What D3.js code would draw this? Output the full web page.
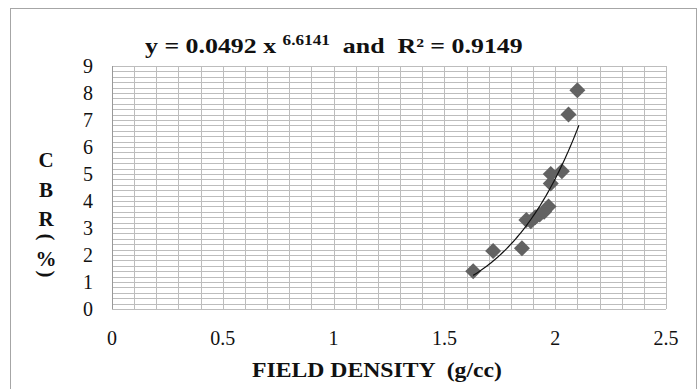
<!DOCTYPE html>
<html>
<head>
<meta charset="utf-8">
<script src="https://cdn.jsdelivr.net/npm/d3@7"></script>
<style>
  html, body { margin: 0; padding: 0; background: #fff; }
</style>
</head>
<body>
<div id="chart"></div>
<script>
// field density (g/cc) vs CBR (%)
var density = [1.63, 1.72, 1.85, 1.87, 1.89, 1.91, 1.93, 1.95, 1.97, 1.98, 1.98, 2.03, 2.06, 2.10];
var cbr     = [1.40, 2.15, 2.25, 3.30, 3.25, 3.40, 3.50, 3.60, 3.80, 4.65, 5.00, 5.10, 7.20, 8.10];

var xTicks = [0, 0.5, 1, 1.5, 2, 2.5];
var yTicks = [0, 1, 2, 3, 4, 5, 6, 7, 8, 9];

// power trendline shown in the title
var coefA = 0.0492, coefB = 6.6141, rSquared = 0.9149;

var width = 700, height = 389;
var margin = { left: 112, right: 34, top: 66, bottom: 80 };
var serif = "'Liberation Serif', 'Times New Roman', serif";

var svg = d3.select("#chart").append("svg")
  .attr("width", width)
  .attr("height", height)
  .attr("font-family", serif)
  .style("display", "block");

// outer chart border
svg.append("rect")
  .attr("x", 10.5).attr("y", 8.5)
  .attr("width", 686).attr("height", 390)
  .attr("fill", "#fff")
  .attr("stroke", "#a6a6a6");

var x = d3.scaleLinear().domain([0, 2.5]).range([margin.left, width - margin.right]);
var y = d3.scaleLinear().domain([0, 9]).range([height - margin.bottom, margin.top]);

// gridlines
var grid = svg.append("g").attr("stroke", "#bdbdbd").attr("stroke-width", 1);
grid.selectAll("line.h")
  .data(d3.range(0, 45 + 1).map(function(i) { return i * 0.2; }))
  .enter().append("line")
  .attr("x1", x(0)).attr("x2", x(2.5))
  .attr("y1", function(d) { return Math.round(y(d)) + 0.5; })
  .attr("y2", function(d) { return Math.round(y(d)) + 0.5; });
grid.selectAll("line.v")
  .data(d3.range(0, 25 + 1).map(function(i) { return i * 0.1; }))
  .enter().append("line")
  .attr("y1", y(0)).attr("y2", y(9))
  .attr("x1", function(d) { return Math.round(x(d)) + 0.5; })
  .attr("x2", function(d) { return Math.round(x(d)) + 0.5; });

// plot area left edge, a bit darker
svg.append("line")
  .attr("x1", x(0) + 0.5).attr("x2", x(0) + 0.5)
  .attr("y1", y(0)).attr("y2", y(9))
  .attr("stroke", "#999");

// tick labels
svg.append("g").selectAll("text")
  .data(yTicks)
  .enter().append("text")
  .attr("x", 93)
  .attr("y", function(d) { return y(d) + 7; })
  .attr("text-anchor", "end")
  .attr("font-size", "20px")
  .attr("fill", "#111")
  .text(function(d) { return d; });

svg.append("g").selectAll("text")
  .data(xTicks)
  .enter().append("text")
  .attr("x", function(d) { return x(d); })
  .attr("y", 345)
  .attr("text-anchor", "middle")
  .attr("font-size", "20px")
  .attr("fill", "#111")
  .text(function(d) { return d; });

// trendline
var fit = d3.range(0, 61).map(function(i) {
  var xv = 1.63 + i * (2.107 - 1.63) / 60;
  return [xv, coefA * Math.pow(xv, coefB)];
});
var fitLine = d3.line().x(function(d) { return x(d[0]); }).y(function(d) { return y(d[1]); });

// points
var pts = density.map(function(d, i) { return { x: d, y: cbr[i] }; });
svg.append("g").selectAll("path")
  .data(pts)
  .enter().append("path")
  .attr("transform", function(d) { return "translate(" + x(d.x) + "," + y(d.y) + ")"; })
  .attr("d", "M0,-8L8,0L0,8L-8,0Z")
  .attr("fill", "#626262");

svg.append("path")
  .datum(fit)
  .attr("fill", "none")
  .attr("stroke", "#111")
  .attr("stroke-width", 1.2)
  .attr("d", fitLine);

// stretch a text horizontally so it spans [x0, x0 + w]
function fitWidth(sel, x0, w) {
  var bb = sel.node().getBBox();
  var k = w / bb.width;
  sel.attr("transform", "translate(" + x0 + ",0) scale(" + k + ",1) translate(" + (-bb.x) + ",0)");
}

// title with equation
var title = svg.append("text")
  .attr("x", 0).attr("y", 53)
  .attr("font-size", "21px")
  .attr("font-weight", "bold")
  .attr("fill", "#111");
title.append("tspan").text("y = " + coefA + " x ");
title.append("tspan").attr("font-size", "14px").attr("dy", -8).text(coefB);
title.append("tspan").attr("dy", 8).attr("xml:space", "preserve").text("  and  R² = " + rSquared);
fitWidth(title, 145, 378);

// x axis title
var xTitle = svg.append("text")
  .attr("x", 0).attr("y", 377)
  .attr("font-size", "20px")
  .attr("font-weight", "bold")
  .attr("fill", "#111")
  .attr("xml:space", "preserve")
  .text("FIELD DENSITY  (g/cc)");
fitWidth(xTitle, 252, 250);

// stacked y axis title
var yTitle = [
  { t: "C", y: 167, rot: false },
  { t: "B", y: 197, rot: false },
  { t: "R", y: 226, rot: false },
  { t: "(", y: 237, rot: true },
  { t: "%", y: 266, rot: false },
  { t: ")", y: 274, rot: true }
];
svg.append("g").selectAll("text")
  .data(yTitle)
  .enter().append("text")
  .attr("text-anchor", "middle")
  .attr("font-size", "21px")
  .attr("font-weight", "bold")
  .attr("fill", "#111")
  .attr("transform", function(d) {
    return d.rot ? "translate(46," + d.y + ") rotate(90)" : "translate(46," + d.y + ")";
  })
  .attr("dy", function(d) { return d.rot ? "0.3em" : 0; })
  .text(function(d) { return d.t; });
</script>
</body>
</html>
